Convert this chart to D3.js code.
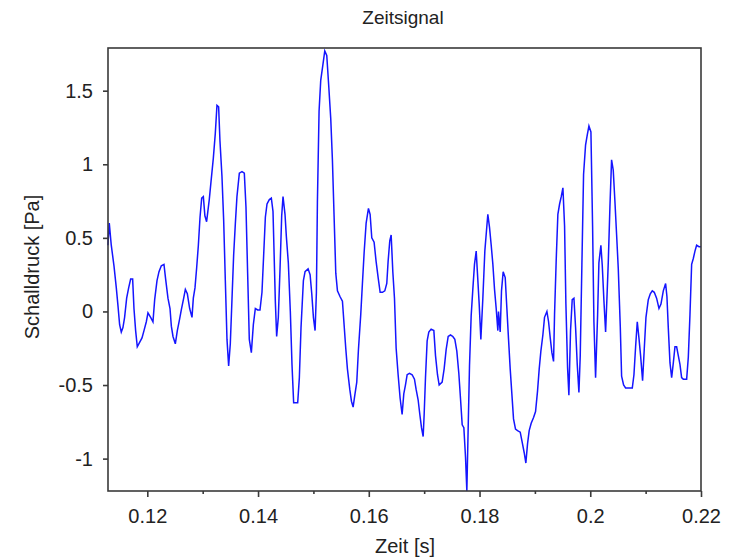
<!DOCTYPE html>
<html>
<head>
<meta charset="utf-8">
<script src="https://cdn.jsdelivr.net/npm/d3@7"></script>
<style>
body { margin: 0; background: #fff; }
text { font-family: "Liberation Sans", Arial, sans-serif; fill: #222; }
</style>
</head>
<body>
<div id="chart"></div>
<script>
var width = 734;
var height = 557;

// time samples [s]
var zeit = [
  0.11289, 0.11313, 0.11349, 0.11398, 0.11440, 0.11470, 0.11500, 0.11530, 0.11560, 0.11590,
  0.11627, 0.11663, 0.11699, 0.11735, 0.11759, 0.11789, 0.11819, 0.11861, 0.11904, 0.11940,
  0.11982, 0.12012, 0.12060, 0.12102, 0.12133, 0.12175, 0.12211, 0.12253, 0.12301, 0.12331,
  0.12373, 0.12410, 0.12434, 0.12464, 0.12506, 0.12542, 0.12584, 0.12614, 0.12657, 0.12687,
  0.12723, 0.12765, 0.12807, 0.12831, 0.12861, 0.12892, 0.12922, 0.12952, 0.12982, 0.13012,
  0.13040, 0.13071, 0.13119, 0.13150, 0.13192, 0.13228, 0.13258, 0.13288, 0.13312, 0.13348,
  0.13379, 0.13409, 0.13439, 0.13469, 0.13499, 0.13529, 0.13559, 0.13589, 0.13619, 0.13662,
  0.13710, 0.13752, 0.13782, 0.13812, 0.13842, 0.13879, 0.13915, 0.13951, 0.13993, 0.14035,
  0.14071, 0.14101, 0.14132, 0.14162, 0.14204, 0.14240, 0.14270, 0.14288, 0.14312, 0.14336,
  0.14366, 0.14397, 0.14427, 0.14451, 0.14487, 0.14511, 0.14547, 0.14583, 0.14613, 0.14643,
  0.14716, 0.14746, 0.14776, 0.14819, 0.14849, 0.14904, 0.14940, 0.14970, 0.15000, 0.15030,
  0.15054, 0.15072, 0.15102, 0.15132, 0.15169, 0.15205, 0.15241, 0.15277, 0.15313, 0.15343,
  0.15373, 0.15404, 0.15434, 0.15482, 0.15524, 0.15554, 0.15584, 0.15614, 0.15657, 0.15687,
  0.15717, 0.15747, 0.15783, 0.15813, 0.15855, 0.15885, 0.15916, 0.15952, 0.15994, 0.16024,
  0.16054, 0.16096, 0.16132, 0.16169, 0.16205, 0.16247, 0.16289, 0.16325, 0.16349, 0.16379,
  0.16404, 0.16434, 0.16464, 0.16494, 0.16530, 0.16566, 0.16602, 0.16632, 0.16662, 0.16693,
  0.16735, 0.16783, 0.16825, 0.16855, 0.16891, 0.16922, 0.16952, 0.16982, 0.17000, 0.17024,
  0.17054, 0.17084, 0.17126, 0.17175, 0.17205, 0.17241, 0.17271, 0.17325, 0.17361, 0.17397,
  0.17434, 0.17476, 0.17518, 0.17554, 0.17590, 0.17626, 0.17656, 0.17687, 0.17717, 0.17747,
  0.17771, 0.17795, 0.17819, 0.17849, 0.17879, 0.17909, 0.17940, 0.17964, 0.17994, 0.18024,
  0.18060, 0.18096, 0.18126, 0.18150, 0.18181, 0.18211, 0.18241, 0.18271, 0.18301, 0.18331,
  0.18343, 0.18373, 0.18397, 0.18427, 0.18464, 0.18494, 0.18524, 0.18554, 0.18584, 0.18614,
  0.18650, 0.18686, 0.18735, 0.18771, 0.18807, 0.18837, 0.18867, 0.18897, 0.18933, 0.18976,
  0.19012, 0.19048, 0.19078, 0.19108, 0.19144, 0.19174, 0.19217, 0.19247, 0.19277, 0.19307,
  0.19337, 0.19355, 0.19385, 0.19415, 0.19446, 0.19476, 0.19506, 0.19536, 0.19560, 0.19590,
  0.19614, 0.19644, 0.19674, 0.19705, 0.19735, 0.19765, 0.19795, 0.19819, 0.19849, 0.19879,
  0.19915, 0.19946, 0.19976, 0.20012, 0.20042, 0.20066, 0.20096, 0.20132, 0.20156, 0.20192,
  0.20217, 0.20247, 0.20277, 0.20301, 0.20325, 0.20355, 0.20385, 0.20415, 0.20445, 0.20476,
  0.20506, 0.20542, 0.20566, 0.20602, 0.20638, 0.20686, 0.20759, 0.20789, 0.20819, 0.20849,
  0.20879, 0.20909, 0.20945, 0.20976, 0.21006, 0.21048, 0.21084, 0.21120, 0.21156, 0.21198,
  0.21241, 0.21277, 0.21319, 0.21361, 0.21385, 0.21409, 0.21440, 0.21470, 0.21500, 0.21530,
  0.21560, 0.21590, 0.21620, 0.21650, 0.21680, 0.21741, 0.21771, 0.21801, 0.21831, 0.21861,
  0.21891, 0.21921, 0.21963, 0.22000
];

// sound pressure [Pa]
var druck = [
  0.45, 0.60, 0.45, 0.31, 0.16, 0.04, -0.09, -0.14, -0.11, -0.04,
  0.09, 0.16, 0.22, 0.22, 0.02, -0.13, -0.24, -0.21, -0.18, -0.13,
  -0.07, -0.01, -0.04, -0.07, 0.08, 0.21, 0.27, 0.31, 0.32, 0.22,
  0.09, 0.02, -0.10, -0.17, -0.22, -0.13, -0.05, 0.01, 0.09, 0.15,
  0.12, 0.02, -0.04, 0.09, 0.16, 0.30, 0.45, 0.64, 0.77, 0.78,
  0.65, 0.61, 0.76, 0.88, 1.04, 1.21, 1.40, 1.39, 1.16, 0.92,
  0.62, 0.21, -0.19, -0.37, -0.22, 0.08, 0.38, 0.59, 0.78, 0.94,
  0.95, 0.94, 0.71, 0.26, -0.19, -0.28, -0.09, 0.02, 0.01, 0.01,
  0.13, 0.38, 0.64, 0.73, 0.76, 0.77, 0.68, 0.42, 0.07, -0.17,
  -0.04, 0.29, 0.65, 0.78, 0.66, 0.51, 0.33, 0.00, -0.36, -0.62,
  -0.62, -0.45, -0.11, 0.21, 0.27, 0.29, 0.25, 0.12, -0.04, -0.13,
  0.13, 0.74, 1.36, 1.57, 1.67, 1.77, 1.74, 1.53, 1.31, 1.03,
  0.65, 0.26, 0.14, 0.10, 0.07, -0.09, -0.25, -0.39, -0.53, -0.61,
  -0.65, -0.57, -0.48, -0.26, -0.02, 0.19, 0.40, 0.60, 0.70, 0.66,
  0.50, 0.47, 0.34, 0.23, 0.13, 0.13, 0.14, 0.19, 0.34, 0.48,
  0.52, 0.27, 0.09, -0.25, -0.43, -0.59, -0.70, -0.56, -0.50, -0.43,
  -0.42, -0.43, -0.46, -0.53, -0.60, -0.70, -0.79, -0.85, -0.70, -0.45,
  -0.20, -0.14, -0.12, -0.13, -0.30, -0.43, -0.50, -0.48, -0.39, -0.26,
  -0.17, -0.16, -0.17, -0.19, -0.27, -0.42, -0.59, -0.77, -0.79, -0.99,
  -1.22, -0.79, -0.37, -0.03, 0.15, 0.32, 0.41, 0.25, 0.05, -0.19,
  0.09, 0.41, 0.55, 0.66, 0.57, 0.45, 0.32, 0.15, 0.02, -0.13,
  0.00, -0.14, 0.14, 0.27, 0.23, 0.02, -0.19, -0.39, -0.56, -0.73,
  -0.80, -0.81, -0.82, -0.89, -0.96, -1.03, -0.90, -0.81, -0.76, -0.72,
  -0.68, -0.54, -0.39, -0.27, -0.16, -0.04, 0.00, -0.07, -0.18, -0.28,
  -0.34, -0.02, 0.35, 0.66, 0.73, 0.78, 0.84, 0.58, 0.05, -0.38,
  -0.57, -0.13, 0.08, 0.09, -0.11, -0.36, -0.55, -0.30, 0.32, 0.93,
  1.13, 1.20, 1.26, 1.22, 0.58, -0.07, -0.45, -0.03, 0.33, 0.45,
  0.31, 0.07, -0.14, 0.09, 0.33, 0.71, 1.03, 0.96, 0.75, 0.52,
  0.29, -0.10, -0.44, -0.50, -0.52, -0.52, -0.52, -0.43, -0.24, -0.07,
  -0.18, -0.30, -0.47, -0.25, -0.04, 0.08, 0.12, 0.14, 0.13, 0.09,
  0.02, 0.05, 0.14, 0.19, 0.10, -0.11, -0.35, -0.45, -0.35, -0.24,
  -0.24, -0.30, -0.36, -0.45, -0.46, -0.46, -0.31, -0.02, 0.32, 0.36,
  0.41, 0.45, 0.44, 0.44
];

var xTicks = [0.12, 0.14, 0.16, 0.18, 0.2, 0.22];
var xMinorTicks = [0.13, 0.15, 0.17, 0.19, 0.21];
var yTicks = [-1, -0.5, 0, 0.5, 1, 1.5];

var data = zeit.map(function(t, i) { return { t: t, p: druck[i] }; });

var margin = { top: 48, right: 33, bottom: 66, left: 108 };
var innerW = width - margin.left - margin.right;
var innerH = height - margin.top - margin.bottom;

var svg = d3.select("#chart").append("svg")
  .attr("width", width)
  .attr("height", height);

var g = svg.append("g")
  .attr("transform", "translate(" + margin.left + "," + margin.top + ")");

var x = d3.scaleLinear().domain([0.1129, 0.22]).range([0, innerW]);
var y = d3.scaleLinear().domain([-1.22, 1.79]).range([innerH, 0]);

// signal
var line = d3.line()
  .x(function(d) { return x(d.t); })
  .y(function(d) { return y(d.p); });

g.append("path")
  .datum(data)
  .attr("fill", "none")
  .attr("stroke", "#1515ff")
  .attr("stroke-width", 1.5)
  .attr("stroke-linejoin", "miter")
  .attr("d", line);

// frame
g.append("rect")
  .attr("x", 0).attr("y", 0)
  .attr("width", innerW).attr("height", innerH)
  .attr("fill", "none")
  .attr("stroke", "#3a3a3a")
  .attr("stroke-width", 1.6);

// x axis
g.append("g")
  .attr("transform", "translate(0," + innerH + ")")
  .call(d3.axisBottom(x).tickValues(xTicks).tickSize(6).tickPadding(12)
    .tickFormat(function(d) { return String(d); }));

g.append("g")
  .attr("transform", "translate(0," + innerH + ")")
  .call(d3.axisBottom(x).tickValues(xMinorTicks).tickSize(3).tickFormat(""))
  .select(".domain").remove();

// y axis
g.append("g")
  .call(d3.axisLeft(y).tickValues(yTicks).tickSize(5).tickPadding(10)
    .tickFormat(function(d) { return String(d); }));

svg.selectAll(".domain").attr("stroke", "none");
svg.selectAll(".tick line").attr("stroke", "#3a3a3a").attr("stroke-width", 1.6);
svg.selectAll(".tick text")
  .style("font-family", "'Liberation Sans', Arial, sans-serif")
  .style("font-size", "20px")
  .attr("fill", "#222");

// title and labels
svg.append("text")
  .attr("x", 403).attr("y", 24)
  .attr("text-anchor", "middle")
  .style("font-size", "19px")
  .text("Zeitsignal");

svg.append("text")
  .attr("x", 405).attr("y", 553)
  .attr("text-anchor", "middle")
  .style("font-size", "20px")
  .text("Zeit [s]");

svg.append("text")
  .attr("transform", "translate(39,267) rotate(-90)")
  .attr("text-anchor", "middle")
  .style("font-size", "20px")
  .text("Schalldruck [Pa]");
</script>
</body>
</html>
